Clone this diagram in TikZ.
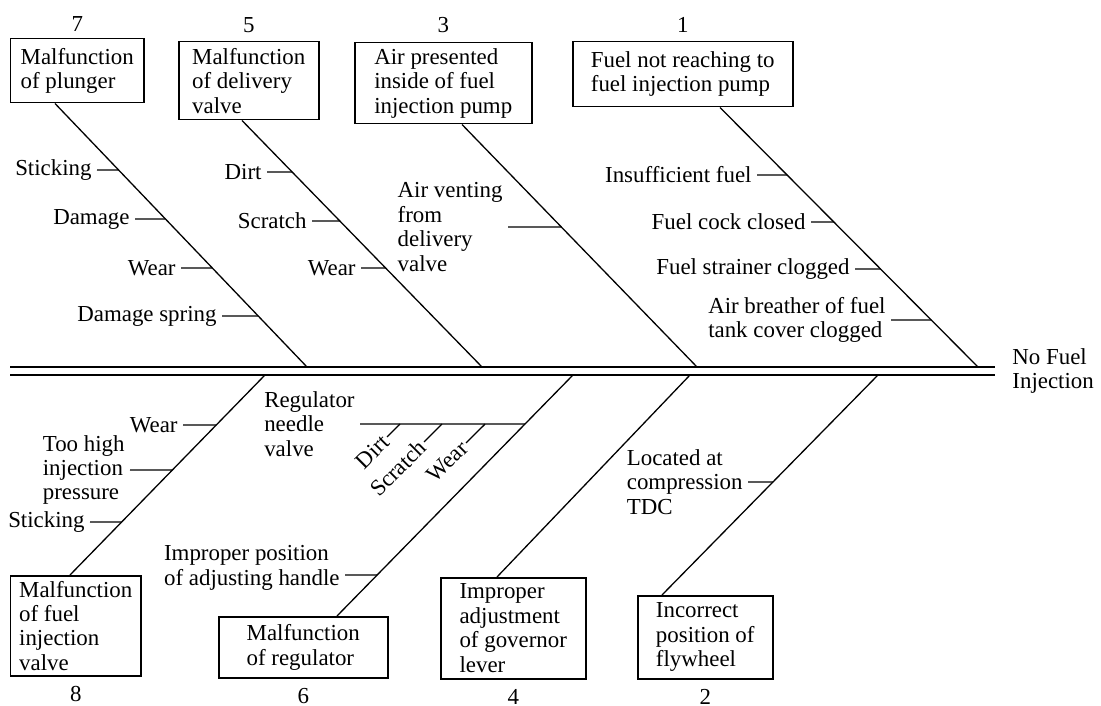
\documentclass[tikz,border=0pt]{standalone}
\usepackage{fontspec}
\setmainfont{Liberation Serif}
\usetikzlibrary{positioning,calc}
\newdimen\pxu \pxu=0.45pt
\newcommand\lbl{\fontsize{10.3}{11}\selectfont}
\tikzset{
  cause/.style={rectangle, draw, line width=1.5\pxu, anchor=north west,
                align=left, inner sep=0pt, font=\lbl},
  num/.style={inner sep=0pt, font=\lbl},
  sub/.style={inner xsep=5\pxu, inner ysep=0pt, align=left, font=\lbl},
  bone/.style={line width=1.3\pxu},
  spine/.style={double, line width=1.3\pxu, double distance=6.5\pxu},
  effect/.style={inner sep=0pt, align=left, font=\lbl}
}
\begin{document}
\begin{tikzpicture}[x=0.45pt, y=-0.45pt]
\useasboundingbox (0,0) rectangle (1101,706);
\fill[white] (0,0) rectangle (1101,706);

% spine and effect
\coordinate (tail) at (10,371);
\coordinate (head) at (995,371);
\draw[spine] (tail) -- (head);
\node[effect, right=17\pxu of head] (eff) {No Fuel\\Injection};

% causes above the spine
\node[cause, minimum width=133\pxu, minimum height=64\pxu] (c7) at (10,38) {Malfunction\\of plunger};
\node[cause, minimum width=140\pxu, minimum height=78\pxu] (c5) at (178,41) {Malfunction\\of delivery\\valve};
\node[cause, minimum width=177\pxu, minimum height=81\pxu] (c3) at (354,42) {Air presented\\inside of fuel\\injection pump};
\node[cause, minimum width=220\pxu, minimum height=65\pxu] (c1) at (572,41) {Fuel not reaching to\\fuel injection pump};
\node[num, above=6\pxu of c7] (n7) {7};
\node[num, above=8\pxu of c5] (n5) {5};
\node[num, above=9\pxu of c3] (n3) {3};
\node[num, above=8\pxu of c1] (n1) {1};

% causes below the spine
\node[cause, minimum width=130\pxu, minimum height=100\pxu] (c8) at (10,575) {Malfunction\\of fuel\\injection\\valve};
\node[cause, minimum width=169\pxu, minimum height=61\pxu] (c6) at (218,616) {Malfunction\\of regulator};
\node[cause, minimum width=145\pxu, minimum height=101\pxu] (c4) at (440,577) {Improper\\adjustment\\of governor\\lever};
\node[cause, minimum width=135\pxu, minimum height=83\pxu] (c2) at (637,595) {Incorrect\\position of\\flywheel};
\node[num, below=9\pxu of c8] (n8) {8};
\node[num, below=9\pxu of c6] (n6) {6};
\node[num, below=9\pxu of c4] (n4) {4};
\node[num, below=9\pxu of c2] (n2) {2};

% bones
\coordinate (t7) at ([xshift=45\pxu]c7.south west);  \coordinate (s7) at (307,367);
\coordinate (t5) at ([xshift=64\pxu]c5.south west);  \coordinate (s5) at (482,367);
\coordinate (t3) at ([xshift=108\pxu]c3.south west); \coordinate (s3) at (697,367);
\coordinate (t1) at ([xshift=148\pxu]c1.south west); \coordinate (s1) at (978,367);
\coordinate (t8) at ([xshift=60\pxu]c8.north west);  \coordinate (s8) at (265,375);
\coordinate (t6) at ([xshift=119\pxu]c6.north west); \coordinate (s6) at (573,375);
\coordinate (t4) at ([xshift=57\pxu]c4.north west);  \coordinate (s4) at (690,375);
\coordinate (t2) at ([xshift=25\pxu]c2.north west);  \coordinate (s2) at (878,375);
\foreach \k in {7,5,3,1,8,6,4,2}
  \draw[bone] (t\k) -- (s\k);

% sub-causes of 7
\node[sub, anchor=east] (p7a) at (97,170) {Sticking};
\node[sub, anchor=east] (p7b) at (135,219) {Damage};
\node[sub, anchor=east] (p7c) at (181,268) {Wear};
\node[sub, anchor=east] (p7d) at (222,316) {Damage spring};
% sub-causes of 5
\node[sub, anchor=east] (p5a) at (267,172) {Dirt};
\node[sub, anchor=east] (p5b) at (312,221) {Scratch};
\node[sub, anchor=east] (p5c) at (361,268) {Wear};
% sub-causes of 3
\node[sub, anchor=east] (p3a) at (508,227) {Air venting\\from\\delivery\\valve};
% sub-causes of 1
\node[sub, anchor=east] (p1a) at (757,175) {Insufficient fuel};
\node[sub, anchor=east] (p1b) at (811,222) {Fuel cock closed};
\node[sub, anchor=east] (p1c) at (855,269) {Fuel strainer clogged};
\node[sub, anchor=east] (p1d) at (891,320) {Air breather of fuel\\tank cover clogged};
% sub-causes of 8
\node[sub, anchor=east] (p8a) at (183,425) {Wear};
\node[sub, anchor=east] (p8b) at (130,470) {Too high\\injection\\pressure};
\node[sub, anchor=east] (p8c) at (90,522) {Sticking};
% sub-causes of 2
\node[sub, anchor=east] (p2a) at (748,482) {Located at\\compression\\TDC};

\foreach \p/\k in {p7a/7,p7b/7,p7c/7,p7d/7,p5a/5,p5b/5,p5c/5,p3a/3,
                   p1a/1,p1b/1,p1c/1,p1d/1,p8a/8,p8b/8,p8c/8,p2a/2}
  \draw[bone] (\p.east) -- (intersection of \p.west--\p.east and t\k--s\k);

% sub-causes of 6
\node[sub, anchor=east] (p6a) at (360,424) {Regulator\\needle\\valve};
\coordinate (r6) at (intersection of p6a.west--p6a.east and t6--s6);
\draw[bone] (p6a.east) -- (r6);
\node[sub, anchor=east] (p6b) at (345,568) {Improper position\\of adjusting handle};
\coordinate (q6) at ([yshift=-7\pxu]p6b.east);
\draw[bone] (q6) -- (intersection of q6--q6-|s6 and t6--s6);

\node[sub, rotate=45, anchor=east, inner xsep=2\pxu] (r6a) at (387,437) {Dirt};
\node[sub, rotate=45, anchor=east, inner xsep=2\pxu] (r6b) at (424,442) {Scratch};
\node[sub, rotate=45, anchor=east, inner xsep=2\pxu] (r6c) at (466,443) {Wear};
\foreach \p in {r6a,r6b,r6c}
  \draw[bone] (\p.east) -- (intersection of \p.west--\p.east and p6a.east--r6);
\end{tikzpicture}
\end{document}
